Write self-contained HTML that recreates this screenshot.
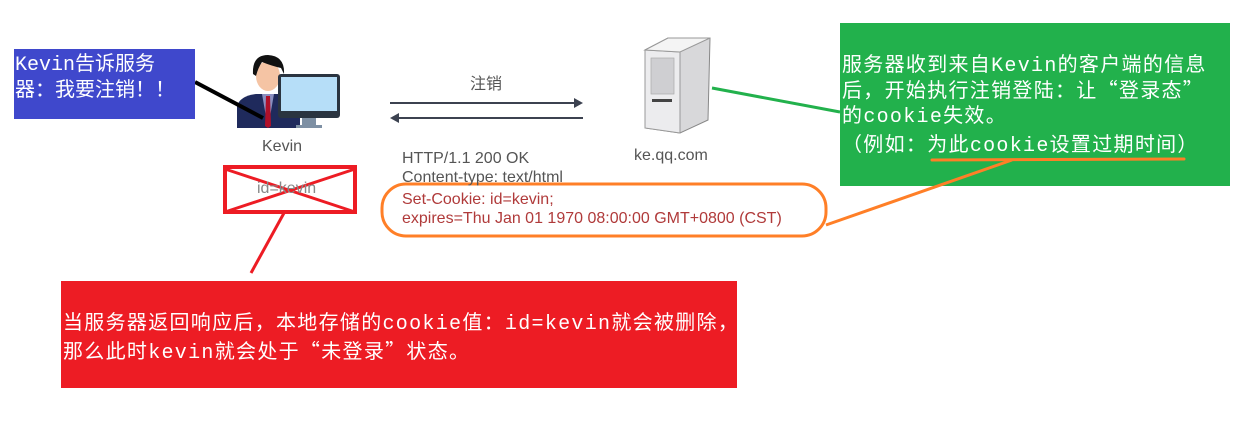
<!DOCTYPE html>
<html><head><meta charset="utf-8"><style>
html,body{margin:0;padding:0;background:#fff;}
body{width:1254px;height:427px;position:relative;overflow:hidden;}
.box{position:absolute;color:#fff;font-family:"Noto Sans CJK SC","WenQuanYi Zen Hei",sans-serif;font-size:20px;white-space:nowrap;}
.box i{font-style:normal;font-family:"Liberation Mono",monospace;}
.box .l{position:absolute;left:2px;height:26px;line-height:26px;}
.g{font-family:"Liberation Sans","Noto Sans CJK SC",sans-serif;position:absolute;white-space:nowrap;}
</style></head><body>
<svg width="1254" height="427" style="position:absolute;left:0;top:0">
  <path d="M237 128 L237 106 Q240 96 256 94 L280 94 Q296 96 300 106 L300 128 Z" fill="#1f2a5c"/>
  <path d="M262 94 L268 128 L274 94 Z" fill="#8a8fc0"/>
  <path d="M266 96 L270 96 L271 126 L268 128 L265 126 Z" fill="#b0102a"/>
  <ellipse cx="268" cy="76" rx="12" ry="15" fill="#f5c4a4"/>
  <path d="M253 74 Q252 55 268 55 Q285 56 284 74 L281 68 Q272 66 262 62 Q258 68 256 76 Z" fill="#111"/>
  <rect x="278" y="74" width="62" height="44" rx="3" fill="#2a3440"/>
  <rect x="281" y="77" width="56" height="34" fill="#b6def8"/>
  <rect x="302" y="118" width="14" height="8" fill="#7e90a4"/>
  <rect x="296" y="125" width="26" height="3" fill="#7e90a4"/>
  <line x1="195" y1="82" x2="263" y2="118" stroke="#000" stroke-width="4"/>
  <path d="M645 50 L668 38 L710 38 L708 120 L680 133 L645 128 Z" fill="#d8d8da" stroke="#888" stroke-width="1"/>
  <path d="M645 50 L680 52 L680 133 L645 128 Z" fill="#ececee" stroke="#999" stroke-width="1"/>
  <path d="M645 50 L668 38 L710 38 L680 52 Z" fill="#f4f4f4" stroke="#999" stroke-width="1"/>
  <rect x="651" y="58" width="23" height="36" fill="#cfcfd2" stroke="#aaa" stroke-width="0.7"/>
  <rect x="652" y="99" width="20" height="3" fill="#444"/>
  <line x1="390" y1="103" x2="576" y2="103" stroke="#3c4250" stroke-width="2"/>
  <path d="M583 103 L574 98 L574 108 Z" fill="#3c4250"/>
  <line x1="397" y1="118" x2="583" y2="118" stroke="#3c4250" stroke-width="2"/>
  <path d="M390 118 L399 113 L399 123 Z" fill="#3c4250"/>
  <line x1="712" y1="88" x2="840" y2="112" stroke="#22b14c" stroke-width="3"/>
  <rect x="382" y="184" width="444" height="52" rx="24" fill="none" stroke="#ff7f27" stroke-width="3"/>
  <rect x="225" y="167" width="130" height="45" fill="none" stroke="#ed1c24" stroke-width="4"/>
  <line x1="225" y1="169" x2="355" y2="212" stroke="#ed1c24" stroke-width="3"/>
  <line x1="225" y1="212" x2="355" y2="169" stroke="#ed1c24" stroke-width="3"/>
  <line x1="284" y1="213" x2="251" y2="273" stroke="#ed1c24" stroke-width="3"/>
</svg>
<div class="g" style="left:262px;top:138px;font-size:16px;color:#555">Kevin</div>
<div class="g" style="left:257px;top:180px;font-size:16px;color:#888">id=kevin</div>
<div class="g" style="left:470px;top:70px;font-size:16px;color:#555">注销</div>
<div class="g" style="left:634px;top:147px;font-size:16px;color:#555">ke.qq.com</div>
<div class="g" style="left:402px;top:149px;font-size:16px;line-height:19px;color:#555">HTTP/1.1 200 OK<br>Content-type: text/html</div>
<div class="g" style="left:402px;top:190px;font-size:16px;line-height:19px;color:#b03a3a">Set-Cookie: id=kevin;<br>expires=Thu Jan 01 1970 08:00:00 GMT+0800 (CST)</div>
<div class="box" style="left:14px;top:49px;width:181px;height:70px;background:#3f48cc;">
  <div class="l" style="top:0px;left:1px"><i>Kevin</i>告诉服务</div>
  <div class="l" style="top:26px;left:1px">器：我要注销！！</div>
</div>
<div class="box" style="left:840px;top:23px;width:390px;height:163px;background:#22b14c;letter-spacing:1.3px">
  <div class="l" style="top:27px">服务器收到来自<i>Kevin</i>的客户端的信息</div>
  <div class="l" style="top:53px">后，开始执行注销登陆：让“登录态”</div>
  <div class="l" style="top:78px">的<i>cookie</i>失效。</div>
  <div class="l" style="top:107px">（例如：为此<i>cookie</i>设置过期时间）</div>
</div>
<div class="box" style="left:61px;top:281px;width:676px;height:107px;background:#ed1c24;letter-spacing:1.3px">
  <div class="l" style="top:27px">当服务器返回响应后，本地存储的<i>cookie</i>值：<i>id=kevin</i>就会被删除，</div>
  <div class="l" style="top:56px">那么此时<i>kevin</i>就会处于“未登录”状态。</div>
</div>
<svg width="1254" height="427" style="position:absolute;left:0;top:0">
  <line x1="826" y1="225" x2="1012" y2="160" stroke="#ff7f27" stroke-width="3"/>
  <line x1="932" y1="160" x2="1184" y2="159" stroke="#ff7f27" stroke-width="3" stroke-linecap="round"/>
</svg>
</body></html>
